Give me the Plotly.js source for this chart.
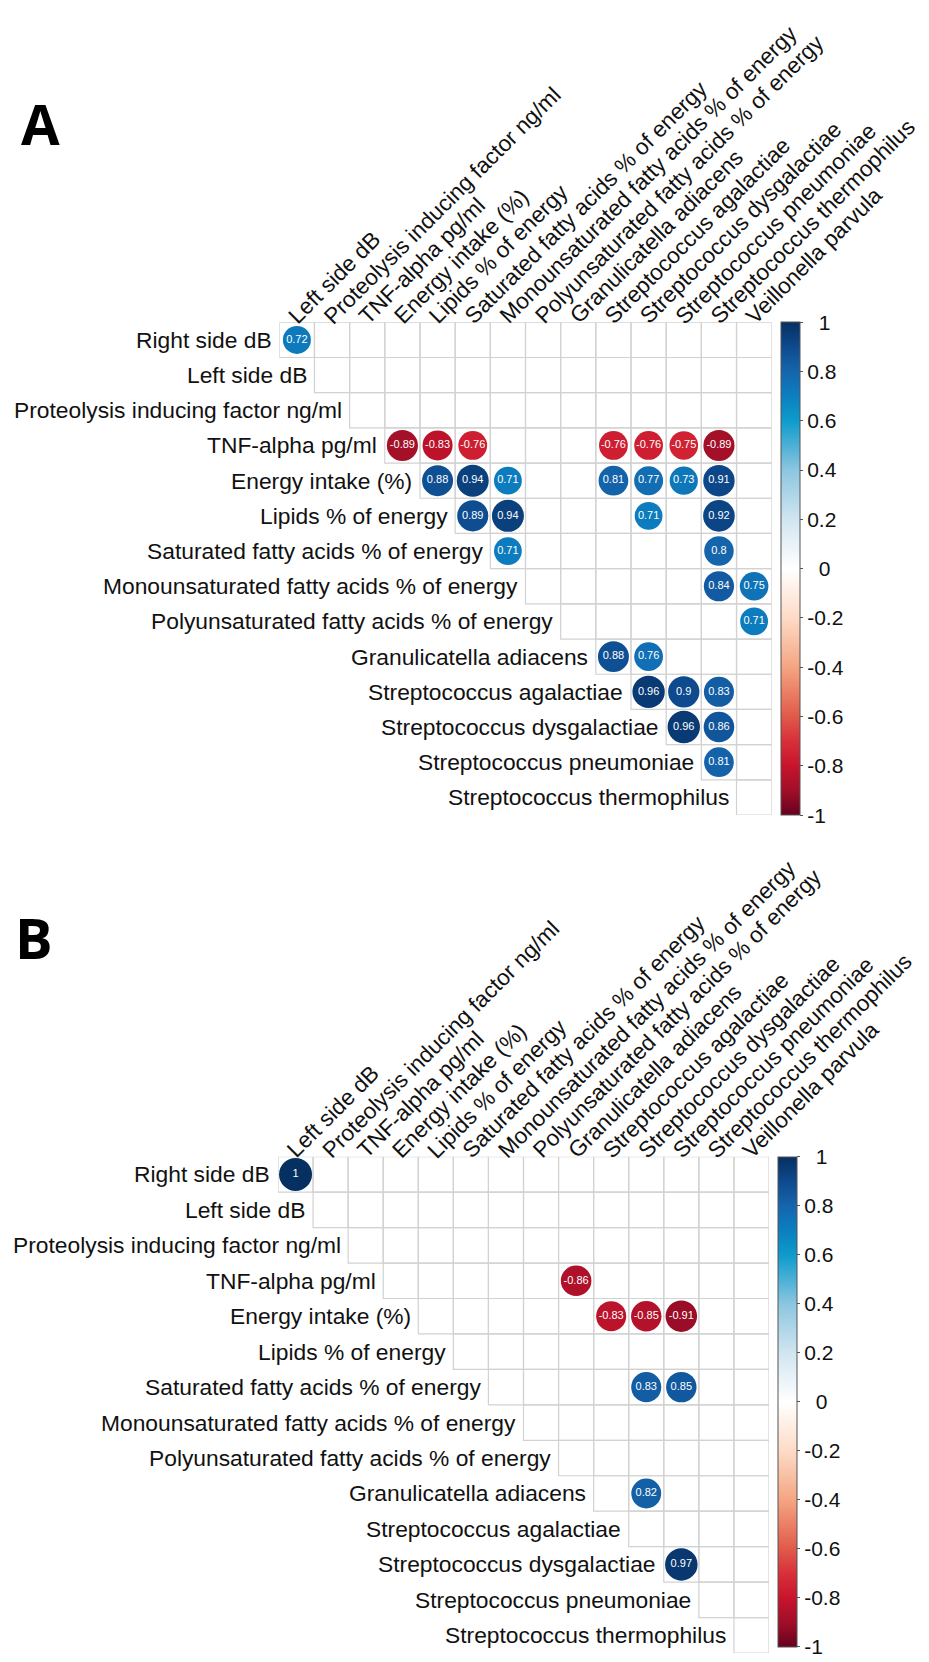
<!DOCTYPE html>
<html><head><meta charset="utf-8">
<script src="https://cdn.plot.ly/plotly-3.0.1.min.js"></script>
<style>html,body{margin:0;padding:0;background:#fff}</style>
</head><body><div id="chart" style="width:929px;height:1662px"></div>
<script>
// ---- categories ----
const rowLabels = ["Right side dB","Left side dB","Proteolysis inducing factor ng/ml","TNF-alpha pg/ml","Energy intake (%)","Lipids % of energy","Saturated fatty acids % of energy","Monounsaturated fatty acids % of energy","Polyunsaturated fatty acids % of energy","Granulicatella adiacens","Streptococcus agalactiae","Streptococcus dysgalactiae","Streptococcus pneumoniae","Streptococcus thermophilus"];
const colLabels = ["Left side dB","Proteolysis inducing factor ng/ml","TNF-alpha pg/ml","Energy intake (%)","Lipids % of energy","Saturated fatty acids % of energy","Monounsaturated fatty acids % of energy","Polyunsaturated fatty acids % of energy","Granulicatella adiacens","Streptococcus agalactiae","Streptococcus dysgalactiae","Streptococcus pneumoniae","Streptococcus thermophilus","Veillonella parvula"];

// ---- panel A: significant correlations ----
const aRow = ["Right side dB",
 "TNF-alpha pg/ml","TNF-alpha pg/ml","TNF-alpha pg/ml","TNF-alpha pg/ml","TNF-alpha pg/ml","TNF-alpha pg/ml","TNF-alpha pg/ml",
 "Energy intake (%)","Energy intake (%)","Energy intake (%)","Energy intake (%)","Energy intake (%)","Energy intake (%)","Energy intake (%)",
 "Lipids % of energy","Lipids % of energy","Lipids % of energy","Lipids % of energy",
 "Saturated fatty acids % of energy","Saturated fatty acids % of energy",
 "Monounsaturated fatty acids % of energy","Monounsaturated fatty acids % of energy",
 "Polyunsaturated fatty acids % of energy",
 "Granulicatella adiacens","Granulicatella adiacens",
 "Streptococcus agalactiae","Streptococcus agalactiae","Streptococcus agalactiae",
 "Streptococcus dysgalactiae","Streptococcus dysgalactiae",
 "Streptococcus pneumoniae"];
const aCol = ["Left side dB",
 "Energy intake (%)","Lipids % of energy","Saturated fatty acids % of energy","Streptococcus agalactiae","Streptococcus dysgalactiae","Streptococcus pneumoniae","Streptococcus thermophilus",
 "Lipids % of energy","Saturated fatty acids % of energy","Monounsaturated fatty acids % of energy","Streptococcus agalactiae","Streptococcus dysgalactiae","Streptococcus pneumoniae","Streptococcus thermophilus",
 "Saturated fatty acids % of energy","Monounsaturated fatty acids % of energy","Streptococcus dysgalactiae","Streptococcus thermophilus",
 "Monounsaturated fatty acids % of energy","Streptococcus thermophilus",
 "Streptococcus thermophilus","Veillonella parvula",
 "Veillonella parvula",
 "Streptococcus agalactiae","Streptococcus dysgalactiae",
 "Streptococcus dysgalactiae","Streptococcus pneumoniae","Streptococcus thermophilus",
 "Streptococcus pneumoniae","Streptococcus thermophilus",
 "Streptococcus thermophilus"];
const aVal = [0.72,
 -0.89,-0.83,-0.76,-0.76,-0.76,-0.75,-0.89,
 0.88,0.94,0.71,0.81,0.77,0.73,0.91,
 0.89,0.94,0.71,0.92,
 0.71,0.8,
 0.84,0.75,
 0.71,
 0.88,0.76,
 0.96,0.9,0.83,
 0.96,0.86,
 0.81];

// ---- panel B: significant correlations ----
const bRow = ["Right side dB","TNF-alpha pg/ml","Energy intake (%)","Energy intake (%)","Energy intake (%)",
 "Saturated fatty acids % of energy","Saturated fatty acids % of energy","Granulicatella adiacens","Streptococcus dysgalactiae"];
const bCol = ["Left side dB","Granulicatella adiacens","Streptococcus agalactiae","Streptococcus dysgalactiae","Streptococcus pneumoniae",
 "Streptococcus dysgalactiae","Streptococcus pneumoniae","Streptococcus dysgalactiae","Streptococcus pneumoniae"];
const bVal = [1,-0.86,-0.83,-0.85,-0.91,0.83,0.85,0.82,0.97];

// colour bar ticks
const cbTickVals = [-1,-0.8,-0.6,-0.4,-0.2,0,0.2,0.4,0.6,0.8,1];
const cbTickText = ["-1","-0.8","-0.6","-0.4","-0.2","\u20070","0.2","0.4","0.6","0.8","\u20071"];

const panelLetters = ["A","B"];

// ---- styling ----
const FONT = "Liberation Sans, Arial, sans-serif";
const W = 929, H = 1662;
const colorscale = [
 [0,'#67001F'],[0.05,'#A00F28'],[0.1,'#C8142C'],[0.15,'#D7303A'],[0.2,'#E05A4A'],
 [0.3,'#F4A582'],[0.4,'#FDDBC7'],[0.5,'#FFFFFF'],[0.6,'#D1E5F0'],[0.7,'#8CC6E0'],
 [0.75,'#4BB0D6'],[0.8,'#0E9BCB'],[0.85,'#0B7FC0'],[0.9,'#1565AD'],[0.95,'#0E4A8E'],[1,'#053061']];

const panels = [
 {rows:aRow, cols:aCol, vals:aVal, xa:'x', ya:'y', xd:[279.3,771.7], yd:[322.3,815], cbx:781, cby:[322.3,815], letter:[40,123]},
 {rows:bRow, cols:bCol, vals:bVal, xa:'x2', ya:'y2', xd:[278,769], yd:[1156.7,1653], cbx:778.3, cby:[1156.7,1647], letter:[33.5,937]}
];

const traces = [], shapes = [], annotations = [];
const layout = {width:W, height:H, margin:{l:0,r:0,t:0,b:0}, paper_bgcolor:'#fff', plot_bgcolor:'rgba(0,0,0,0)', showlegend:false};

panels.forEach((p, k) => {
  const xn = k === 0 ? 'xaxis' : 'xaxis2';
  const yn = k === 0 ? 'yaxis' : 'yaxis2';
  layout[xn] = {domain:[p.xd[0]/W, p.xd[1]/W], range:[-0.5, colLabels.length-0.5], anchor:p.ya,
    showgrid:false, zeroline:false, showticklabels:false, ticks:'', showline:false, fixedrange:true};
  layout[yn] = {domain:[1-p.yd[1]/H, 1-p.yd[0]/H], range:[rowLabels.length-0.5, -0.5], anchor:p.xa,
    showgrid:false, zeroline:false, showticklabels:false, ticks:'', showline:false, fixedrange:true};

  // cell borders (upper triangle)
  rowLabels.forEach((r, i) => {
    for (let j = i; j < colLabels.length; j++) {
      shapes.push({type:'rect', xref:p.xa, yref:p.ya, x0:j-0.5, x1:j+0.5, y0:i-0.5, y1:i+0.5,
        line:{color:'#d2d2d2', width:1.2}, fillcolor:'rgba(0,0,0,0)', layer:'below'});
    }
    annotations.push({xref:p.xa, yref:p.ya, x:i-0.5, y:i, xanchor:'right', yanchor:'middle', xshift:-5.6,
      text:r, showarrow:false, font:{family:FONT, size:22.8, color:'#111'}});
  });
  colLabels.forEach((c, j) => {
    annotations.push({xref:p.xa, yref:p.ya, x:j, y:-0.5, xanchor:'left', yanchor:'bottom', textangle:-45,
      xshift:-16, yshift:-9, text:c, showarrow:false, font:{family:FONT, size:22.5, color:'#111'}});
  });

  const cbH = p.cby[1]-p.cby[0];
  traces.push({
    type:'scatter', mode:'markers+text', xaxis:p.xa, yaxis:p.ya,
    x:p.cols.map(c => colLabels.indexOf(c)), y:p.rows.map(r => rowLabels.indexOf(r)),
    text:p.vals.map(v => String(v)), textposition:'middle center',
    textfont:{family:FONT, size:11, color:'#fff'}, hoverinfo:'none', cliponaxis:false,
    marker:{size:p.vals.map(v => 33*Math.sqrt(Math.abs(v))), color:p.vals, cmin:-1, cmax:1,
      colorscale:colorscale, line:{width:0}, opacity:1, showscale:true,
      colorbar:{x:p.cbx/W, xanchor:'left', xpad:0, ypad:0, y:1-(p.cby[0]+p.cby[1])/2/H, yanchor:'middle',
        len:cbH, lenmode:'pixels', thickness:19, thicknessmode:'pixels',
        outlinewidth:1, outlinecolor:'#555', ticks:'outside', ticklen:3, tickwidth:1, tickcolor:'#555',
        tickmode:'array', tickvals:cbTickVals, ticktext:cbTickText, ticklabeloverflow:'allow',
        tickfont:{family:FONT, size:21, color:'#111'}}}
  });

  annotations.push({xref:'paper', yref:'paper', x:p.letter[0]/W, y:1-p.letter[1]/H, xanchor:'center', yanchor:'middle',
    text:panelLetters[k], showarrow:false, font:{family:'Open Sans, Liberation Sans, sans-serif', size:56, weight:700, color:'#000'}});
});

layout.shapes = shapes;
layout.annotations = annotations;
Plotly.newPlot('chart', traces, layout, {staticPlot:true, displayModeBar:false});
</script></body></html>
